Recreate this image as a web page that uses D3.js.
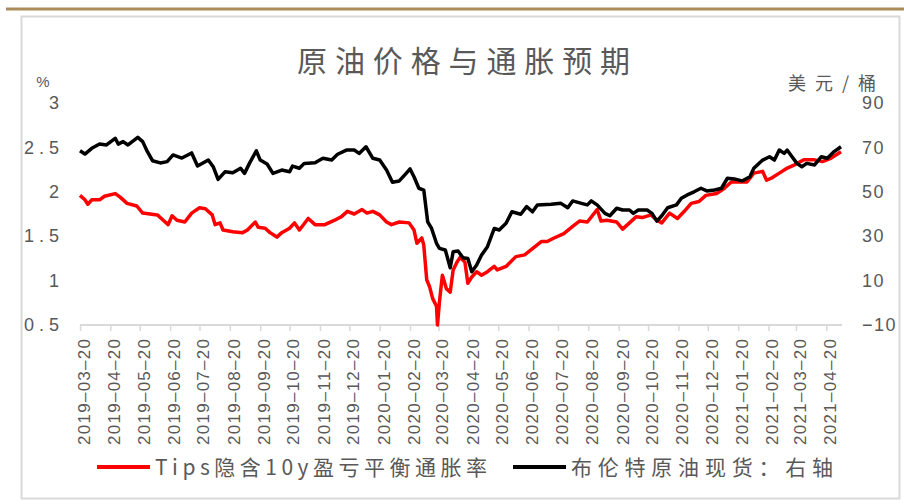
<!DOCTYPE html>
<html lang="zh">
<head>
<meta charset="UTF-8">
<title>原油价格与通胀预期</title>
<script src="https://cdn.jsdelivr.net/npm/d3@7"></script>
<style>
  body { margin: 0; background: #fff; }
  svg text { fill: #595959; }
</style>
</head>
<body>
<div id="chart"></div>
<script>
// Tips 隐含10y盈亏平衡通胀率 (左轴, %)
const tipsDates = ["2019-03-20","2019-03-25","2019-03-28","2019-04-01","2019-04-09","2019-04-14","2019-04-25","2019-04-30","2019-05-07","2019-05-17","2019-05-23","2019-06-07","2019-06-13","2019-06-18","2019-06-22","2019-06-27","2019-07-05","2019-07-12","2019-07-20","2019-07-26","2019-08-02","2019-08-05","2019-08-10","2019-08-13","2019-08-23","2019-09-02","2019-09-07","2019-09-15","2019-09-18","2019-09-25","2019-09-30","2019-10-07","2019-10-12","2019-10-20","2019-10-25","2019-10-30","2019-11-08","2019-11-15","2019-11-25","2019-12-05","2019-12-12","2019-12-18","2019-12-25","2020-01-02","2020-01-07","2020-01-13","2020-01-20","2020-01-27","2020-02-01","2020-02-09","2020-02-19","2020-02-24","2020-02-27","2020-03-03","2020-03-05","2020-03-08","2020-03-11","2020-03-14","2020-03-18","2020-03-19","2020-03-21","2020-03-24","2020-03-28","2020-04-01","2020-04-04","2020-04-08","2020-04-11","2020-04-16","2020-04-19","2020-04-23","2020-04-28","2020-05-03","2020-05-09","2020-05-16","2020-05-19","2020-05-28","2020-06-07","2020-06-16","2020-06-24","2020-07-03","2020-07-09","2020-07-16","2020-07-26","2020-08-04","2020-08-11","2020-08-19","2020-08-29","2020-09-02","2020-09-08","2020-09-18","2020-09-24","2020-10-01","2020-10-08","2020-10-14","2020-10-23","2020-10-29","2020-11-03","2020-11-11","2020-11-19","2020-11-26","2020-12-03","2020-12-11","2020-12-18","2020-12-29","2021-01-06","2021-01-13","2021-01-21","2021-01-29","2021-02-05","2021-02-14","2021-02-18","2021-02-24","2021-03-03","2021-03-10","2021-03-18","2021-03-28","2021-04-08","2021-04-16","2021-04-25","2021-05-05"];
const tipsValues = [1.96,1.91,1.86,1.91,1.91,1.95,1.98,1.94,1.87,1.84,1.76,1.74,1.68,1.63,1.73,1.68,1.66,1.76,1.82,1.81,1.74,1.63,1.65,1.57,1.55,1.54,1.57,1.66,1.60,1.59,1.54,1.49,1.54,1.59,1.65,1.57,1.70,1.63,1.63,1.68,1.72,1.78,1.75,1.80,1.76,1.78,1.74,1.66,1.63,1.66,1.65,1.57,1.42,1.48,1.40,1.01,0.93,0.80,0.71,0.50,0.76,1.06,0.91,0.87,1.12,1.21,1.26,1.21,0.97,1.04,1.10,1.06,1.10,1.16,1.12,1.16,1.27,1.29,1.36,1.44,1.44,1.48,1.53,1.61,1.67,1.66,1.80,1.67,1.68,1.66,1.58,1.65,1.72,1.71,1.74,1.68,1.65,1.76,1.70,1.78,1.87,1.89,1.96,1.98,2.04,2.11,2.11,2.11,2.21,2.23,2.13,2.16,2.21,2.26,2.30,2.36,2.36,2.34,2.38,2.45];

// 布伦特原油现货 (右轴, 美元/桶)
const brentDates = ["2019-03-20","2019-03-25","2019-04-01","2019-04-09","2019-04-16","2019-04-25","2019-04-28","2019-05-03","2019-05-08","2019-05-18","2019-05-23","2019-05-27","2019-06-02","2019-06-10","2019-06-17","2019-06-23","2019-07-02","2019-07-12","2019-07-18","2019-07-29","2019-08-03","2019-08-08","2019-08-15","2019-08-23","2019-08-31","2019-09-04","2019-09-09","2019-09-16","2019-09-20","2019-09-27","2019-10-03","2019-10-12","2019-10-20","2019-10-23","2019-10-30","2019-11-04","2019-11-15","2019-11-23","2019-12-02","2019-12-08","2019-12-17","2019-12-25","2019-12-30","2020-01-06","2020-01-13","2020-01-20","2020-01-27","2020-02-02","2020-02-09","2020-02-16","2020-02-20","2020-02-24","2020-02-29","2020-03-05","2020-03-09","2020-03-13","2020-03-18","2020-03-21","2020-03-27","2020-04-01","2020-04-04","2020-04-09","2020-04-14","2020-04-19","2020-04-23","2020-04-28","2020-05-03","2020-05-09","2020-05-16","2020-05-21","2020-05-28","2020-06-03","2020-06-12","2020-06-18","2020-06-24","2020-06-29","2020-07-13","2020-07-23","2020-07-30","2020-08-04","2020-08-13","2020-08-19","2020-08-23","2020-08-29","2020-09-06","2020-09-11","2020-09-18","2020-09-24","2020-10-01","2020-10-05","2020-10-10","2020-10-19","2020-10-24","2020-10-29","2020-11-03","2020-11-09","2020-11-18","2020-11-23","2020-11-29","2020-12-06","2020-12-13","2020-12-19","2020-12-27","2021-01-03","2021-01-09","2021-01-16","2021-01-24","2021-02-01","2021-02-05","2021-02-14","2021-02-21","2021-02-26","2021-03-03","2021-03-08","2021-03-11","2021-03-16","2021-03-21","2021-03-26","2021-03-31","2021-04-08","2021-04-15","2021-04-21","2021-04-28","2021-05-05"];
const brentValues = [68.5,67.0,69.6,71.5,71.1,74.1,71.5,72.6,71.1,74.5,72.6,68.8,64.0,63.0,63.6,66.6,65.2,67.5,61.6,64.3,61.3,55.6,59.0,58.6,60.6,58.3,62.8,68.5,64.3,62.5,58.3,59.8,59.0,61.6,60.6,62.8,63.1,65.1,64.3,66.9,68.8,68.8,67.3,70.3,65.1,64.3,59.8,54.3,54.9,58.3,60.3,56.8,51.6,50.8,36.5,33.5,26.8,24.5,23.8,15.8,23.0,23.3,20.3,20.0,14.0,17.0,21.5,25.3,33.5,32.8,35.8,41.0,39.9,43.3,41.0,44.1,44.4,44.8,42.8,45.9,44.8,44.1,45.9,44.1,40.3,39.2,42.6,41.8,41.8,40.3,41.8,41.8,40.3,36.8,39.2,42.8,44.1,47.1,48.6,50.0,51.6,50.4,50.8,51.6,56.1,55.8,54.9,56.8,60.6,64.3,65.8,64.3,68.8,67.3,68.8,65.8,62.8,61.3,62.8,62.1,65.8,65.1,68.1,70.3];

const tickDates = ["2019-03-20","2019-04-20","2019-05-20","2019-06-20","2019-07-20","2019-08-20","2019-09-20","2019-10-20","2019-11-20","2019-12-20","2020-01-20","2020-02-20","2020-03-20","2020-04-20","2020-05-20","2020-06-20","2020-07-20","2020-08-20","2020-09-20","2020-10-20","2020-11-20","2020-12-20","2021-01-20","2021-02-20","2021-03-20","2021-04-20"];
const leftTicks = [0.5, 1, 1.5, 2, 2.5, 3];
const rightTicks = [-10, 10, 30, 50, 70, 90];

const width = 904, height = 504;
const plot = {left: 80, right: 841, top: 103, bottom: 325};
const parse = d3.timeParse("%Y-%m-%d");

const svg = d3.select('#chart').append('svg')
    .attr('width', width)
    .attr('height', height)
    .style('font-family', '"Liberation Sans", Arial, sans-serif');

// top rule and frame
svg.append('line')
    .attr('x1', 6).attr('x2', width).attr('y1', 9).attr('y2', 9)
    .attr('stroke', '#a98c5a').attr('stroke-width', 3);
svg.append('rect')
    .attr('x', 21.5).attr('y', 16.5).attr('width', 878).attr('height', 482)
    .attr('fill', '#fff').attr('stroke', '#d9d9d9').attr('stroke-width', 2);

const xScale = d3.scaleTime()
    .domain([parse("2019-03-20"), parse("2021-05-05")])
    .range([plot.left, plot.right]);
const yLeft = d3.scaleLinear().domain([0.5, 3]).range([plot.bottom, plot.top]);
const yRight = d3.scaleLinear().domain([-10, 90]).range([plot.bottom, plot.top]);

// x axis
const xAxis = svg.append('g')
    .attr('transform', 'translate(0,' + plot.bottom + ')')
    .call(d3.axisBottom(xScale)
        .tickValues(tickDates.map(parse))
        .tickSize(6)
        .tickFormat(d3.timeFormat("%Y-%m-%d")));
xAxis.select('.domain').attr('stroke', '#d9d9d9').attr('stroke-width', 2)
    .attr('d', 'M' + plot.left + ',0H' + (plot.right + 1));
xAxis.selectAll('.tick line').attr('stroke', '#d9d9d9').attr('stroke-width', 1.5);
xAxis.selectAll('.tick text')
    .attr('transform', 'rotate(-90)')
    .attr('text-anchor', 'end')
    .attr('x', -14)
    .attr('y', 0)
    .attr('dy', '0.55em')
    .attr('textLength', 106)
    .attr('lengthAdjust', 'spacing')
    .style('font-size', '17px')
    .style('fill', '#595959')
    .text(d => d3.timeFormat("%Y-%m-%d")(d).replace(/-/g, '\u2013'));

// left axis
const leftAxis = svg.append('g')
    .attr('transform', 'translate(' + 67 + ',0)')
    .call(d3.axisLeft(yLeft).tickValues(leftTicks).tickSize(0).tickFormat(d => d));
leftAxis.select('.domain').remove();
leftAxis.selectAll('text')
    .style('font-size', '18px')
    .style('letter-spacing', '5px')
    .style('fill', '#595959');

// right axis
const rightAxis = svg.append('g')
    .attr('transform', 'translate(' + 862 + ',0)')
    .call(d3.axisRight(yRight).tickValues(rightTicks).tickSize(0)
        .tickFormat(d => d < 0 ? '\u2212' + Math.abs(d) : d));
rightAxis.select('.domain').remove();
rightAxis.selectAll('text')
    .attr('x', 0)
    .style('font-size', '18px')
    .style('letter-spacing', '1.5px')
    .style('fill', '#595959');

// unit labels
svg.append('text').text('%')
    .attr('x', 43).attr('y', 87)
    .attr('text-anchor', 'middle')
    .style('font-size', '15px');
svg.append('text').text('美元/桶')
    .attr('x', 788).attr('y', 90)
    .attr('textLength', 88)
    .attr('lengthAdjust', 'spacing')
    .style('font-family', '"Noto Sans CJK SC", sans-serif')
    .style('font-size', '18px');

// title
svg.append('text').text('原油价格与通胀预期')
    .attr('x', 297).attr('y', 72)
    .attr('textLength', 333)
    .attr('lengthAdjust', 'spacing')
    .style('font-family', '"Noto Sans CJK SC", sans-serif')
    .style('font-size', '30px');

// lines
const tipsLine = d3.line()
    .x((d, i) => xScale(parse(tipsDates[i])))
    .y(d => yLeft(d));
const brentLine = d3.line()
    .x((d, i) => xScale(parse(brentDates[i])))
    .y(d => yRight(d));

svg.append('path')
    .datum(tipsValues)
    .attr('d', tipsLine)
    .attr('fill', 'none')
    .attr('stroke', '#ff0000')
    .attr('stroke-width', 3.5)
    .attr('stroke-linejoin', 'round');

svg.append('path')
    .datum(brentValues)
    .attr('d', brentLine)
    .attr('fill', 'none')
    .attr('stroke', '#000000')
    .attr('stroke-width', 3.5)
    .attr('stroke-linejoin', 'round');

// legend
const legendY = 467;
const legend = [
    {name: 'Tips隐含10y盈亏平衡通胀率', color: '#ff0000', x: 97, len: 332},
    {name: '布伦特原油现货：右轴', color: '#000000', x: 513, len: 262}
];
legend.forEach(function(l) {
    svg.append('line')
        .attr('x1', l.x).attr('x2', l.x + 53)
        .attr('y1', legendY).attr('y2', legendY)
        .attr('stroke', l.color).attr('stroke-width', 4);
    svg.append('text').text(l.name)
        .attr('x', l.x + 58).attr('y', legendY + 8)
        .attr('textLength', l.len)
        .attr('lengthAdjust', 'spacing')
        .style('font-family', '"Noto Sans CJK SC", sans-serif')
        .style('font-size', '21px');
});
</script>
</body>
</html>
